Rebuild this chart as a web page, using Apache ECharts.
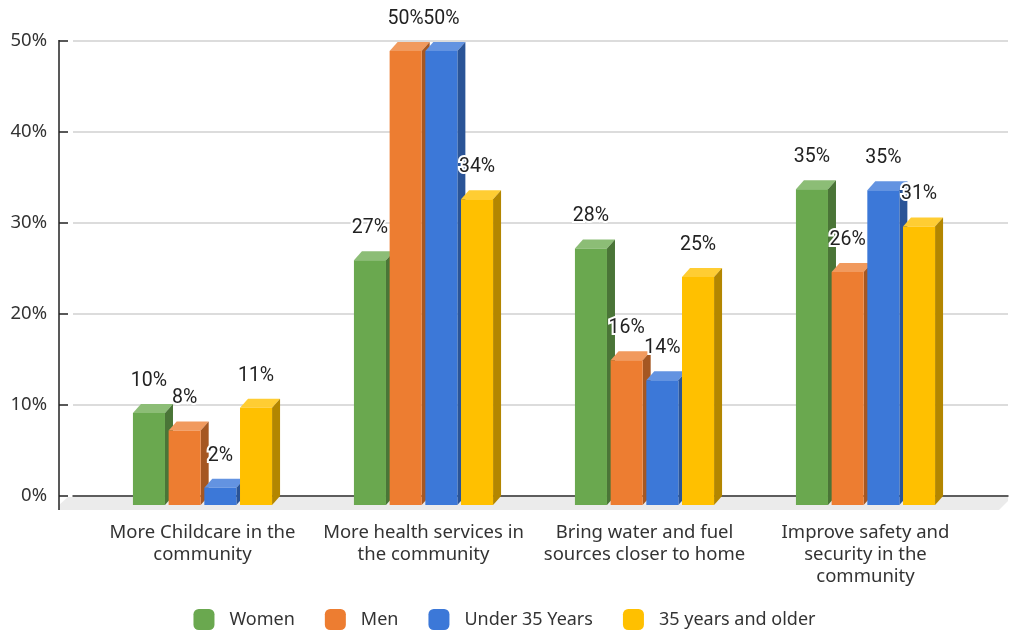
<!DOCTYPE html>
<html>
<head>
<meta charset="utf-8">
<script src="https://cdn.jsdelivr.net/npm/echarts@6/dist/echarts.min.js"></script>
<style>html,body{margin:0;padding:0;background:#fff}#c{width:1009px;height:630px}</style>
</head>
<body>
<div id="c"></div>
<script>
const categories = [
  'More Childcare in the\ncommunity',
  'More health services in\nthe community',
  'Bring water and fuel\nsources closer to home',
  'Improve safety and\nsecurity in the\ncommunity'
];
const seriesNames = ['Women', 'Men', 'Under 35 Years', '35 years and older'];
const women = [10.1, 26.9, 28.2, 34.7];
const men = [8.2, 49.9, 15.9, 25.6];
const under35 = [1.9, 49.9, 13.7, 34.6];
const over35 = [10.7, 33.6, 25.05, 30.6];
const yTicks = [0, 10, 20, 30, 40, 50];

const seriesValues = [women, men, under35, over35];
const faceColors = [
  {front: '#6aa84f', top: '#8cbd76', side: '#4a7537'},
  {front: '#ed7d31', top: '#f19a5e', side: '#a55722'},
  {front: '#3c78d8', top: '#6393e1', side: '#2a5497'},
  {front: '#ffc000', top: '#ffcd33', side: '#b38600'}
];
const DX = 8, DY = 9;
const AX = 14; // front axis offset from back wall

const chart = echarts.init(document.getElementById('c'));

function barRenderer(k) {
  return function (params, api) {
    const ci = api.value(0), v = api.value(1);
    const base = api.coord([ci, 0]);
    const top = api.coord([ci, v]);
    const band = api.size([1, 0])[0];
    const bw = band * 0.145;
    const off = (k - 1.5) * band * 0.1615;
    const x0 = base[0] + off - bw / 2, x1 = x0 + bw;
    const yb = base[1], yt = top[1];
    const c = faceColors[k];
    return {
      type: 'group',
      children: [
        {type: 'polygon', shape: {points: [[x0, yt], [x1, yt], [x1 + DX, yt - DY], [x0 + DX, yt - DY]]}, style: {fill: c.top}},
        {type: 'polygon', shape: {points: [[x1, yt], [x1 + DX, yt - DY], [x1 + DX, yb - DY], [x1, yb]]}, style: {fill: c.side}},
        {type: 'rect', shape: {x: x0, y: yt, width: bw, height: yb - yt}, style: {fill: c.front}},
        {type: 'text', z2: 100, style: {
          x: (x0 + x1) / 2, y: yt - 32, text: Math.round(v) + '%',
          align: 'center', verticalAlign: 'middle',
          fontFamily: 'Roboto', fontSize: 19.5, fill: '#222',
          stroke: '#fff', lineWidth: 4
        }}
      ]
    };
  };
}

const barSeries = seriesNames.map((name, k) => ({
  name: name,
  type: 'custom',
  xAxisIndex: 1,
  yAxisIndex: 1,
  itemStyle: {color: faceColors[k].front},
  renderItem: barRenderer(k),
  encode: {x: 0, y: 1},
  data: seriesValues[k].map((v, i) => [i, v]),
  z: 3
}));

const floorSeries = {
  type: 'custom',
  xAxisIndex: 0,
  yAxisIndex: 0,
  silent: true,
  z: 1,
  renderItem: function (params, api) {
    const p = api.coord([0, 0]);
    const q = api.coord([1, 0]);
    const t = api.coord([0, yTicks[yTicks.length - 1]]);
    const ax = p[0] - AX;
    const children = [
      {type: 'polygon', shape: {points: [
        [p[0] - 5, p[1] + 1], [q[0], q[1] + 1], [q[0], q[1] + 5],
        [q[0] - 9, q[1] + 14], [ax, p[1] + 14], [ax, p[1] + 9]
      ]}, style: {fill: '#ebebeb'}},
      {type: 'line', shape: {x1: ax, y1: t[1] - 1, x2: ax, y2: p[1] + 14},
        style: {stroke: '#222', lineWidth: 1.5}}
    ];
    yTicks.forEach(v => {
      const c = api.coord([0, v]);
      children.push({type: 'line', shape: {x1: ax, y1: c[1], x2: ax + 9, y2: c[1]},
        style: {stroke: '#222', lineWidth: 1.5}});
    });
    return {type: 'group', children: children};
  },
  data: [[0, 0]]
};

chart.setOption({
  animation: false,
  backgroundColor: '#fff',
  grid: [
    {left: 73, right: 1, top: 41, bottom: 134},
    {left: 92, right: 33, top: 50, bottom: 125}
  ],
  legend: {
    left: 'center',
    top: 604,
    icon: 'roundRect',
    itemWidth: 21,
    itemHeight: 21,
    itemGap: 30,
    data: seriesNames,
    textStyle: {fontFamily: 'Noto Sans', fontSize: 18, color: '#333', padding: [0, 0, 0, 10]}
  },
  xAxis: [
    {
      gridIndex: 0, type: 'value', min: 0, max: 1,
      axisLine: {show: true, lineStyle: {color: '#333', width: 1.5}},
      axisTick: {show: false}, axisLabel: {show: false}, splitLine: {show: false}
    },
    {
      gridIndex: 1, type: 'category', data: categories,
      axisLine: {show: false}, axisTick: {show: false},
      axisLabel: {margin: 17, fontFamily: 'Noto Sans', fontSize: 18.5, lineHeight: 22, color: '#333', interval: 0}
    }
  ],
  yAxis: [
    {
      gridIndex: 0, type: 'value', min: yTicks[0], max: yTicks[yTicks.length - 1], interval: 10,
      axisLine: {show: false},
      axisTick: {show: false},
      axisLabel: {margin: 26, formatter: '{value}%', fontFamily: 'Noto Sans', fontSize: 18.5, color: '#333'},
      splitLine: {show: true, lineStyle: {color: '#d0d0d0', width: 1.5}}
    },
    {
      gridIndex: 1, type: 'value', min: yTicks[0], max: yTicks[yTicks.length - 1], show: false
    }
  ],
  series: [floorSeries].concat(barSeries)
});
</script>
</body>
</html>
